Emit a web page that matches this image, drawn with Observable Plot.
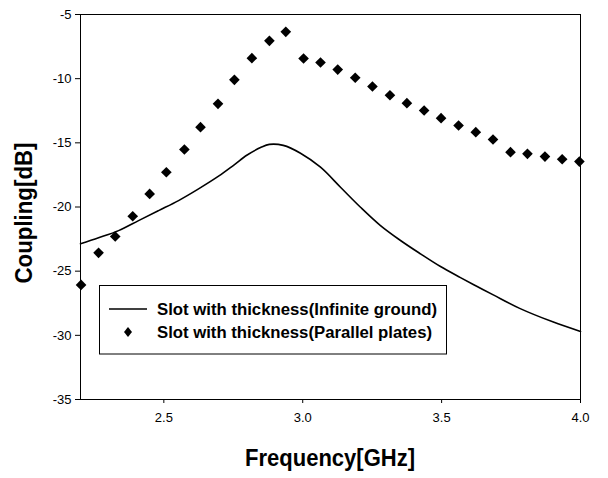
<!DOCTYPE html>
<html>
<head>
<meta charset="utf-8">
<script src="https://cdn.jsdelivr.net/npm/d3@7"></script>
<script src="https://cdn.jsdelivr.net/npm/@observablehq/plot@0.6"></script>
<style>
  html, body { margin: 0; padding: 0; background: #fff; }
  #chart svg { display: block; font-family: "Liberation Sans", Arial, sans-serif; }
</style>
</head>
<body>
<div id="chart"></div>
<script>
// Series 1: Slot with thickness (Infinite ground) — solid line
const lineFreq = [2.2, 2.265, 2.337, 2.409, 2.481, 2.553, 2.625, 2.697, 2.751, 2.80, 2.85, 2.88, 2.93, 2.992, 3.064, 3.136, 3.208, 3.280, 3.352, 3.424, 3.496, 3.568, 3.628, 3.686, 3.781, 3.90, 4.0];
const lineDb   = [-22.87, -22.4, -21.84, -21.06, -20.28, -19.5, -18.59, -17.6, -16.75, -15.95, -15.35, -15.12, -15.2, -15.81, -16.9, -18.46, -20.02, -21.45, -22.61, -23.65, -24.64, -25.5, -26.2, -26.85, -27.9, -28.95, -29.7];

// Series 2: Slot with thickness (Parallel plates) — diamonds
const dotFreq = [2.202, 2.265, 2.325, 2.388, 2.449, 2.509, 2.574, 2.632, 2.695, 2.754, 2.817, 2.880, 2.939, 3.003, 3.064, 3.126, 3.189, 3.251, 3.314, 3.375, 3.437, 3.498, 3.561, 3.623, 3.685, 3.748, 3.809, 3.872, 3.934, 3.996];
const dotDb   = [-26.07, -23.57, -22.3, -20.72, -18.98, -17.29, -15.52, -13.78, -11.96, -10.09, -8.40, -7.05, -6.35, -8.43, -8.74, -9.29, -9.93, -10.61, -11.29, -11.91, -12.48, -13.08, -13.65, -14.17, -14.74, -15.73, -15.86, -16.07, -16.28, -16.46];

const xTicks = [2.5, 3.0, 3.5, 4.0];
const yTicks = [-35, -30, -25, -20, -15, -10, -5];
const xTitle = "Frequency[GHz]";
const yTitle = "Coupling[dB]";
const seriesNames = ["Slot with thickness(Infinite ground)", "Slot with thickness(Parallel plates)"];

const lineData = lineFreq.map((f, i) => ({f, db: lineDb[i]}));
const dotData = dotFreq.map((f, i) => ({f, db: dotDb[i]}));

const plot = Plot.plot({
  width: 608,
  height: 478,
  marginLeft: 80,
  marginRight: 28,
  marginTop: 14,
  marginBottom: 79,
  style: {fontFamily: "'Liberation Sans', Arial, sans-serif", fontSize: "13px", color: "#000", background: "#fff"},
  x: {domain: [2.2, 4.0], label: null},
  y: {domain: [-35, -5], label: null},
  marks: [
    Plot.axisX({ticks: xTicks, tickFormat: d3.format(".1f"), tickSize: 4, tickPadding: 9, fontSize: 13, label: null}),
    Plot.axisY({ticks: yTicks, tickFormat: d => String(d), tickSize: 5, tickPadding: 4, fontSize: 13, label: null}),
    Plot.frame({stroke: "#000", strokeWidth: 1}),
    Plot.line(lineData, {x: "f", y: "db", stroke: "#000", strokeWidth: 1.6, curve: "catmull-rom"}),
    Plot.dot(dotData, {x: "f", y: "db", symbol: "diamond2", r: 4.8, fill: "#000", stroke: "none"})
  ]
});

document.getElementById("chart").appendChild(plot);

const svg = d3.select(plot);

// Axis titles
svg.append("text")
  .attr("x", 330).attr("y", 466)
  .attr("text-anchor", "middle")
  .attr("font-size", 23).attr("font-weight", "bold")
  .attr("textLength", 170).attr("lengthAdjust", "spacingAndGlyphs")
  .attr("fill", "#000")
  .text(xTitle);

svg.append("text")
  .attr("transform", "translate(32,213) rotate(-90)")
  .attr("text-anchor", "middle")
  .attr("font-size", 23).attr("font-weight", "bold")
  .attr("textLength", 141).attr("lengthAdjust", "spacingAndGlyphs")
  .attr("fill", "#000")
  .text(yTitle);

// Legend
const lg = svg.append("g").attr("text-anchor", "start");
lg.append("rect")
  .attr("x", 99.5).attr("y", 285.5).attr("width", 347).attr("height", 68.5)
  .attr("fill", "#fff").attr("stroke", "#000").attr("stroke-width", 1);
lg.append("line")
  .attr("x1", 109).attr("x2", 147).attr("y1", 309).attr("y2", 309)
  .attr("stroke", "#000").attr("stroke-width", 1.6);
lg.append("path")
  .attr("d", "M128,327 L132,332 L128,337 L124,332 Z")
  .attr("fill", "#000");
lg.append("text")
  .attr("x", 157).attr("y", 315)
  .attr("text-anchor", "start")
  .attr("font-size", 16).attr("font-weight", "bold")
  .attr("textLength", 280).attr("lengthAdjust", "spacingAndGlyphs")
  .attr("fill", "#000")
  .text(seriesNames[0]);
lg.append("text")
  .attr("x", 157).attr("y", 338)
  .attr("text-anchor", "start")
  .attr("font-size", 16).attr("font-weight", "bold")
  .attr("textLength", 275).attr("lengthAdjust", "spacingAndGlyphs")
  .attr("fill", "#000")
  .text(seriesNames[1]);
</script>
</body>
</html>
